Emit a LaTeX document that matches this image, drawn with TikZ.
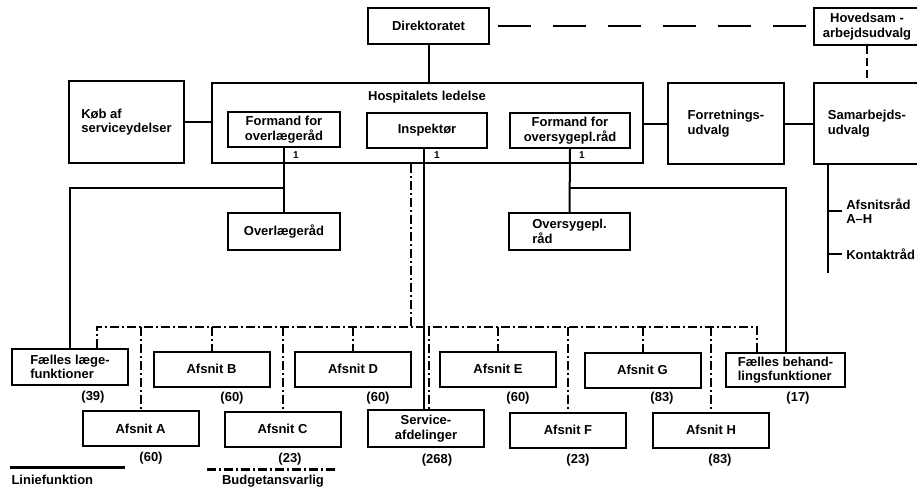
\documentclass[tikz,border=0pt]{standalone}
\usepackage{fontspec}
\setmainfont{Liberation Sans}
\usetikzlibrary{calc}
\tikzset{
    x=1pt, y=-1pt,
    tekst/.style={font=\fontsize{13}{14.5}\selectfont\bfseries},
    boks/.style={tekst, draw=black, line width=2pt, inner sep=2pt, align=center},
    afsnit/.style={boks, minimum width=116pt, minimum height=35pt},
    linie/.style={line width=2pt},
    budget/.style={line width=2pt, dash pattern=on 9pt off 3pt on 2pt off 3pt},
    stiplet/.style={line width=2pt, dash pattern=on 33pt off 22pt, dash phase=47pt},
}

\begin{document}
\begin{tikzpicture}
    \clip (0,0) rectangle (917,490);

    \node[boks, minimum width=121pt, minimum height=36pt] (dir) at (428.5,26) {Direktoratet};
    \node[boks, minimum width=106pt, minimum height=37pt] (hov) at (867,26.5) {Hovedsam -\\arbejdsudvalg};

    \node[boks, minimum width=431pt, minimum height=80pt] (led) at (427.5,123) {};
    \node[tekst] (ledtxt) at (427,97) {Hospitalets ledelse};
    \node[boks, minimum width=112pt, minimum height=35pt] (fol) at (284,129.5) {Formand for\\overlægeråd};
    \node[boks, minimum width=120pt, minimum height=35pt] (insp) at (427,130.5) {Inspektør};
    \node[boks, minimum width=120pt, minimum height=35pt] (fos) at (570,130.5) {Formand for\\oversygepl.råd};
    \node[tekst, font=\fontsize{10}{10}\selectfont\bfseries] (e1) at (296,155) {1};
    \node[tekst, font=\fontsize{10}{10}\selectfont\bfseries] (e2) at (437,155) {1};
    \node[tekst, font=\fontsize{10}{10}\selectfont\bfseries] (e3) at (582,155) {1};

    \node[boks, align=left, minimum width=115pt, minimum height=82pt] (keb) at (126.5,122) {Køb af\\serviceydelser};
    \node[boks, align=left, minimum width=116pt, minimum height=81pt] (forr) at (726,123.5) {Forretnings-\\udvalg};
    \node[boks, align=left, minimum width=106pt, minimum height=81pt] (sam) at (867,123.5) {Samarbejds-\\udvalg};

    \node[boks, minimum width=112pt, minimum height=37pt] (ovl) at (284,231.5) {Overlægeråd};
    \node[boks, align=left, minimum width=121pt, minimum height=37pt] (osr) at (569.5,231.5) {Oversygepl.\\råd};

    \node[boks, align=left, minimum width=116pt, minimum height=36pt] (fl) at (70,367) {Fælles læge-\\funktioner};
    \node[boks, align=left, minimum width=119pt, minimum height=34pt] (fb) at (785.5,370) {Fælles behand-\\lingsfunktioner};
    \node[boks, minimum width=116pt, minimum height=37pt] (serv) at (426,428.5) {Service-\\afdelinger};

    \foreach \n/\x/\y in {A/140.5/428.5, B/211.5/369, C/282.5/429, D/353/369,
                          E/498/369, F/568/430, G/642.5/370, H/711/430}
        \node[afsnit] (a\n) at (\x,\y) {Afsnit \n};

    \foreach \n/\x/\y/\t in {fl/93/397/39, B/232/398/60, D/378/398/60, E/518/398/60,
                             G/662/398/83, fb/798/398/17, A/151/458/60, C/290/459/23,
                             serv/437/460/268, F/578/460/23, H/720/460/83}
        \node[tekst] (n\n) at (\x,\y) {(\t)};

    % linjefunktion
    \draw[linie] (dir.south) -- (dir.south |- led.north);
    \draw[linie] (keb.east) -- (keb.east -| led.west);
    \draw[linie] (forr.west -| led.east) -- (forr.west);
    \draw[linie] (forr.east) -- (forr.east -| sam.west);
    \draw[linie] (fol.south) -- (ovl.north);
    \draw[linie] (fol.south |- 0,188) -| (fl.north);
    \draw[linie] (fos.south) -- (osr.north);
    \draw[linie] (fos.south |- 0,188) -| (fb.north);
    \draw[linie] ([xshift=-3pt]insp.south) -- ([xshift=-3pt]insp.south |- serv.north);

    \draw[stiplet] (dir.east) -- (dir.east -| hov.west);
    \draw[linie, dash pattern=on 8pt off 4pt] (hov.south) -- (sam.north);

    \coordinate (rt) at (828,273);
    \draw[linie] (rt |- sam.south) -- (rt);
    \draw[linie] (rt |- 0,211) -- ++(14,0) node[tekst, right, align=left] (afr) {Afsnitsråd\\A--H};
    \draw[linie] (rt |- 0,254) -- ++(14,0) node[tekst, right] (kon) {Kontaktråd};

    % budgetansvar
    \coordinate (bL) at (97,327);
    \coordinate (bR) at (757,327);
    \coordinate (bV) at (411,327);
    \draw[budget] (bL |- fl.north) -- (bL) -- (bR) -- (bR |- fb.north);
    \draw[budget] (bV |- led.south) -- (bV);
    \foreach \n in {A,B,C,D,E,F,G,H}
        \draw[budget] (a\n.north |- bL) -- (a\n.north);
    \draw[budget] ([xshift=3pt]serv.north |- bL) -- ([xshift=3pt]serv.north);

    % forklaring
    \coordinate (s1) at (10,467);
    \coordinate (s2) at (125,467);
    \coordinate (d1) at (207,469);
    \coordinate (d2) at (335,469);
    \draw[line width=3pt] (s1) -- (s2);
    \draw[budget, line width=3pt] (d1) -- (d2);
    \node[tekst, anchor=west] (lf) at (8,480) {Liniefunktion};
    \node[tekst] (ba) at (273,481) {Budgetansvarlig};
\end{tikzpicture}
\end{document}
